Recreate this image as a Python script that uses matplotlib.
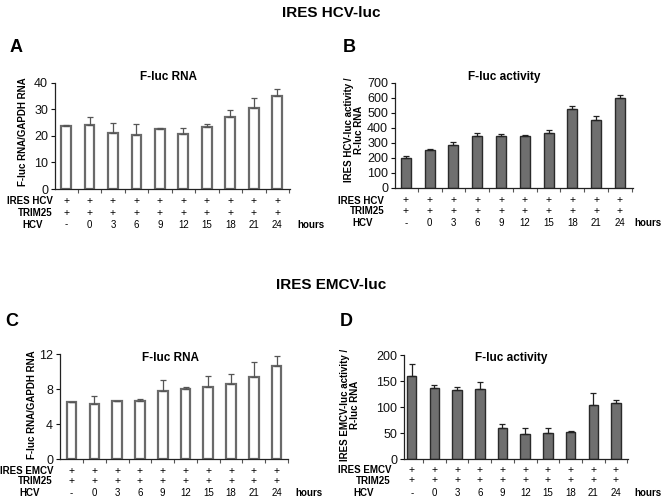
import numpy as np
import matplotlib
matplotlib.use('Agg')
from matplotlib import pyplot as plt
from matplotlib.transforms import blended_transform_factory

plt.rcParams['font.family'] = ['Liberation Sans', 'DejaVu Sans']

hcv_hours = ['-', '0', '3', '6', '9', '12', '15', '18', '21', '24']

# panel A: IRES HCV, F-luc RNA / GAPDH RNA
rna_hcv = [23.6, 23.9, 21.2, 20.4, 22.5, 20.8, 23.4, 27.1, 30.6, 35.0]
rna_hcv_err = [0.6, 3.2, 3.5, 4.1, 0.6, 2.0, 1.0, 2.8, 3.8, 2.6]

# panel B: IRES HCV, F-luc activity
act_hcv = [200, 251, 288, 346, 346, 346, 365, 524, 453, 599]
act_hcv_err = [9, 4, 20, 22, 13, 6, 20, 22, 22, 17]

# panel C: IRES EMCV, F-luc RNA / GAPDH RNA
rna_emcv = [6.5, 6.27, 6.6, 6.7, 7.8, 8.0, 8.25, 8.6, 9.36, 10.62]
rna_emcv_err = [0.05, 0.95, 0.05, 0.15, 1.2, 0.2, 1.3, 1.15, 1.8, 1.23]

# panel D: IRES EMCV, F-luc activity
act_emcv = [159.6, 137.2, 132.0, 134.6, 59.6, 48.7, 50.6, 51.3, 104.5, 107.0]
act_emcv_err = [23.7, 5.8, 7.0, 12.8, 7.7, 10.9, 9.0, 3.2, 21.8, 6.5]

W, H = 662, 501
fig = plt.figure(figsize=(W / 100, H / 100), dpi=100)


def fx(x):
    return x / W


def fy(y):
    return 1 - y / H


def panel(rect_px, xlim, values, errors, ylim, yticks, open_bars,
          title, title_xy, letter, letter_xy, ylabel_lines, ylabel_xy,
          ires_name, row_y, label_right, hours_x):
    left, top, right, bottom = rect_px
    ax = fig.add_axes([fx(left), fy(bottom), fx(right - left),
                       (bottom - top) / H])
    x = np.arange(len(values))
    if open_bars:
        ax.bar(x, values, width=0.42, color='white', edgecolor='#6a6a6a',
               linewidth=1.6, zorder=2)
        ecolor = '#555555'
    else:
        ax.bar(x, values, width=0.42, color='#6f6f6f', edgecolor='#2a2a2a',
               linewidth=1.0, zorder=2)
        ecolor = '#222222'
    ax.errorbar(x, values, yerr=[np.zeros(len(errors)), errors], fmt='none',
                ecolor=ecolor, elinewidth=0.9, capsize=2.2, capthick=0.9,
                zorder=3)
    ax.set_xlim(*xlim)
    ax.set_ylim(*ylim)
    ax.set_yticks(yticks)
    ax.set_xticks(np.arange(0.5, len(values), 1))
    ax.set_xticklabels([])
    ax.tick_params(axis='y', labelsize=9, length=3, width=0.8, pad=2,
                   colors='#111111')
    ax.tick_params(axis='x', length=3, width=0.8, color='#555555')
    for side in ['top', 'right']:
        ax.spines[side].set_visible(False)
    for side in ['left', 'bottom']:
        ax.spines[side].set_linewidth(0.9)
        ax.spines[side].set_color('#222222')

    fig.text(fx(title_xy[0]), fy(title_xy[1]), title, ha='center',
             va='center', fontsize=8.5, fontweight='bold')
    fig.text(fx(letter_xy[0]), fy(letter_xy[1]), letter, ha='center',
             va='center', fontsize=13, fontweight='bold')
    for line, (lx, ly) in zip(ylabel_lines, ylabel_xy):
        fig.text(fx(lx), fy(ly), line, rotation=90, ha='center',
                 va='center', fontsize=7, fontweight='bold')

    # condition table below the axis
    trans = blended_transform_factory(ax.transData, fig.transFigure)
    rows = [ires_name, 'TRIM25', 'HCV']
    signs = [['+'] * len(values), ['+'] * len(values), hcv_hours]
    for name, cells, yy, rx in zip(rows, signs, row_y, label_right):
        fig.text(fx(rx), fy(yy), name, ha='right', va='center',
                 fontsize=7, fontweight='bold')
        for i, cell in enumerate(cells):
            ax.text(i, fy(yy), cell, transform=trans, ha='center',
                    va='center', fontsize=7.5 if cell == '+' else 7)
    fig.text(fx(hours_x), fy(row_y[2]), 'hours', ha='left', va='center',
             fontsize=7, fontweight='bold')
    return ax


fig.text(0.5, fy(13), 'IRES HCV-luc', ha='center', va='center',
         fontsize=11, fontweight='bold')
fig.text(0.5, fy(285), 'IRES EMCV-luc', ha='center', va='center',
         fontsize=11, fontweight='bold')

panel((55, 82.7, 290, 189), (-0.47, 9.54), rna_hcv, rna_hcv_err,
      (0, 40), [0, 10, 20, 30, 40], True,
      'F-luc RNA', (168, 77), 'A', (16, 48),
      ['F-luc RNA/GAPDH RNA'], [(23, 132)],
      'IRES HCV', (200.7, 212.7, 224.5), (53, 53, 43), 297)

panel((395, 82.7, 633, 187.7), (-0.46, 9.55), act_hcv, act_hcv_err,
      (0, 700), np.arange(0, 701, 100), False,
      'F-luc activity', (504, 77), 'B', (349, 48),
      ['IRES HCV-luc activity /', 'R-luc RNA'], [(349, 130), (359, 130)],
      'IRES HCV', (200.5, 211, 223.5), (384, 384, 373), 634)

panel((60, 354.3, 288, 459), (-0.51, 9.47), rna_emcv, rna_emcv_err,
      (0, 12), [0, 4, 8, 12], True,
      'F-luc RNA', (170, 358), 'C', (12, 321),
      ['F-luc RNA/GAPDH RNA'], [(32, 405)],
      'IRES EMCV', (471, 481, 492.7), (53, 53, 40), 295)

panel((404, 355, 628, 459), (-0.34, 9.53), act_emcv, act_emcv_err,
      (0, 200), [0, 50, 100, 150, 200], False,
      'F-luc activity', (511, 358), 'D', (346, 321),
      ['IRES EMCV-luc activity /', 'R-luc RNA'], [(345, 405), (355, 405)],
      'IRES EMCV', (470, 480.5, 492.7), (391, 390, 374), 634)

fig.savefig('out.png', dpi=100)
